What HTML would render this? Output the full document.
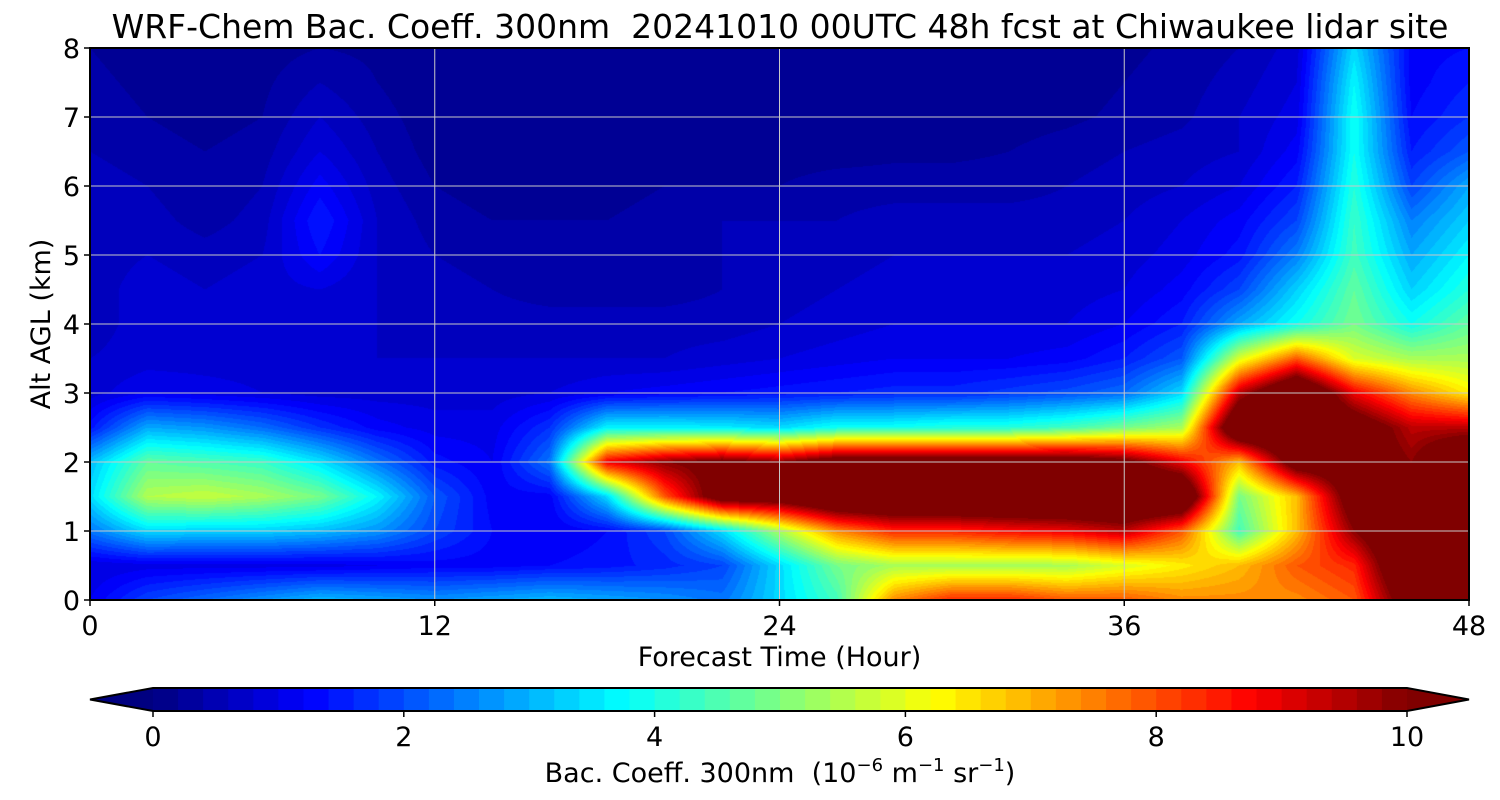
<!DOCTYPE html>
<html><head><meta charset="utf-8">
<style>
body{margin:0;background:#fff;font-family:"DejaVu Sans","Liberation Sans",sans-serif;}
#wrap{position:relative;width:1500px;height:800px;overflow:hidden;}
.t{position:absolute;color:#000;white-space:nowrap;}
</style></head>
<body>
<div id="wrap">
<div class="t" style="left:0;width:1560px;text-align:center;top:7px;font-size:33px;">WRF-Chem Bac. Coeff. 300nm&nbsp; 20241010 00UTC 48h fcst at Chiwaukee lidar site</div>
<canvas id="plot" width="1379" height="552" style="position:absolute;left:90px;top:48px;"></canvas>
<svg id="svg" width="1500" height="800" style="position:absolute;left:0;top:0;"></svg>
</div>
<script>
const times=[0,2,4,6,8,10,12,14,16,18,20,22,24,26,28,30,32,34,36,38,40,42,44,46,48];
const alts=[0,0.5,1,1.5,2,2.5,3,3.5,4,4.5,5,5.5,6,6.5,7,7.5,8];
const xTicks=[0,12,24,36,48];
const yTicks=[0,1,2,3,4,5,6,7,8];
const cbTicks=[0,2,4,6,8,10];
// rows = altitude (0 -> 8 km), cols = forecast hour
const row0=[1.2,2.0,2.4,2.8,3.2,3.0,2.8,3.0,3.2,3.0,2.8,2.5,3.5,4.5,7.5,8.5,8.5,8.0,8.0,7.5,7.5,7.5,8,11,12];
const row05=[1.0,1.1,1.1,1.1,1.1,1.2,1.3,1.3,1.4,1.5,1.7,2.0,3.5,5.0,5.5,5.5,5.5,5.5,6.0,6.5,7,8,8.5,12,12];
const row10=[2.5,3.5,3.4,3.4,3.2,2.8,2.0,1.4,1.2,1.4,2.0,3.5,5.5,7.5,8.5,8.5,8.8,9,9.5,8,4.5,7,10,12,12];
const row15=[3.5,5.6,5.8,5.5,5.0,3.8,2.2,1.3,1.3,3.5,8,11,11,12,12,12,12,12,12,12,5,7,11,12,12];
const row20=[3.2,4.8,4.6,4.4,3.6,2.5,1.5,1.2,2.5,9,10,10.5,10,11,11,11,11,11,10.5,9,7,11,11,10,12];
const row25=[1.5,3.0,2.8,2.4,1.8,1.3,1.1,1.1,1.8,3.8,3.8,3.7,3.5,4.0,4.0,4.2,4.2,4.5,5.0,5.5,12,12,11,9.5,9.5];
const row30=[0.9,1.2,1.1,1.0,0.9,0.9,0.9,0.9,1.0,1.2,1.3,1.4,1.5,1.6,1.7,1.7,1.9,2.1,2.4,3.5,9.5,12,9,7.5,6.5];
const row35=[0.8,0.9,0.9,0.9,0.8,0.8,0.8,0.8,0.8,0.8,0.8,0.9,1.0,1.1,1.2,1.2,1.2,1.3,1.6,2.2,6.0,8.0,6.0,5.5,5.5];
const row40=[0.7,0.9,0.9,0.9,0.9,0.8,0.7,0.7,0.7,0.7,0.7,0.7,0.8,0.9,1.0,1.0,1.0,1.0,1.2,1.6,3.0,4.0,5.0,4.0,4.8];
const row45=[0.7,0.9,0.8,0.9,1.0,0.8,0.7,0.6,0.5,0.5,0.5,0.6,0.7,0.8,0.9,0.9,0.9,0.9,1.0,1.3,2.0,3.4,4.8,3.4,4.2];
const row50=[0.7,0.8,0.7,0.8,1.4,0.8,0.6,0.5,0.4,0.4,0.5,0.6,0.7,0.7,0.8,0.8,0.8,0.8,0.9,1.1,1.5,2.6,4.5,3.0,3.8];
const row55=[0.7,0.7,0.5,0.7,1.6,0.8,0.5,0.4,0.4,0.4,0.5,0.6,0.6,0.6,0.7,0.7,0.7,0.7,0.8,1.0,1.3,2.0,4.4,2.6,3.4];
const row60=[0.7,0.6,0.4,0.6,1.3,0.7,0.4,0.3,0.3,0.3,0.4,0.4,0.4,0.5,0.5,0.5,0.5,0.6,0.7,0.8,1.0,1.6,4.2,2.0,3.0];
const row65=[0.6,0.5,0.4,0.5,1.0,0.6,0.3,0.25,0.25,0.25,0.25,0.3,0.3,0.3,0.35,0.35,0.4,0.5,0.6,0.7,0.8,1.3,4.0,1.6,2.2];
const row70=[0.5,0.4,0.3,0.4,0.8,0.5,0.25,0.2,0.2,0.2,0.2,0.2,0.25,0.25,0.25,0.25,0.3,0.35,0.45,0.55,0.8,1.1,4.0,1.4,1.8];
const row75=[0.45,0.35,0.3,0.35,0.6,0.4,0.2,0.2,0.2,0.2,0.2,0.2,0.2,0.2,0.2,0.2,0.2,0.3,0.4,0.5,0.7,1.0,3.8,1.3,1.6];
const row80=[0.4,0.3,0.3,0.3,0.4,0.35,0.2,0.2,0.2,0.2,0.2,0.2,0.2,0.2,0.2,0.2,0.2,0.3,0.35,0.45,0.6,0.9,3.5,1.3,1.4];
const grid=[row0,row05,row10,row15,row20,row25,row30,row35,row40,row45,row50,row55,row60,row65,row70,row75,row80];

const PX=90,PY=48,PW=1379,PH=552;
const xS=t=>PX+(t-0)/48*PW;
const yS=a=>PY+PH-(a/8)*PH;
const cl=v=>Math.max(0,Math.min(1,v));
function jet(x){x=cl(x);return [cl(1.5-Math.abs(4*x-3)),cl(1.5-Math.abs(4*x-2)),cl(1.5-Math.abs(4*x-1))].map(v=>Math.round(v*255));}
function lvl(v){v=Math.max(0,Math.min(10,v));return Math.floor(v/0.2)*0.2/10;}
function sample(t,a){
  let i=0;while(i<times.length-2&&t>times[i+1])i++;
  let j=0;while(j<alts.length-2&&a>alts[j+1])j++;
  const fx=cl((t-times[i])/(times[i+1]-times[i])),fy=cl((a-alts[j])/(alts[j+1]-alts[j]));
  const v00=grid[j][i],v10=grid[j][i+1],v01=grid[j+1][i],v11=grid[j+1][i+1];
  return (v00*(1-fx)+v10*fx)*(1-fy)+(v01*(1-fx)+v11*fx)*fy;
}
const ctx=document.getElementById('plot').getContext('2d');
const img=ctx.createImageData(PW,PH);
for(let py=0;py<PH;py++){const a=(PH-py-0.5)/PH*8;
  for(let px=0;px<PW;px++){const t=(px+0.5)/PW*48;
    const c=jet(lvl(sample(t,a)));const k=(py*PW+px)*4;
    img.data[k]=c[0];img.data[k+1]=c[1];img.data[k+2]=c[2];img.data[k+3]=255;}}
ctx.putImageData(img,0,0);

const svg=document.getElementById('svg');const NS='http://www.w3.org/2000/svg';
function mk(tag,attrs,name){const e=document.createElementNS(NS,tag);for(const k in attrs)e.setAttribute(k,attrs[k]);


svg.appendChild(e);return e;}
function txt(x,y,s,size,anchor,name){const e=mk('text',{x:x,y:y,'font-size':size,'text-anchor':anchor||'middle','font-family':'DejaVu Sans, Liberation Sans, sans-serif',fill:'#000'},name);e.textContent=s;return e;}
xTicks.forEach(t=>{
  if(t>0&&t<48)mk('line',{x1:xS(t),x2:xS(t),y1:PY,y2:PY+PH,stroke:'#c8c8c8','stroke-width':1},'x-gridline');
  mk('line',{x1:xS(t),x2:xS(t),y1:PY+PH,y2:PY+PH+6,stroke:'#000','stroke-width':1.5},'x-tick');
  txt(xS(t),PY+PH+35,String(t),27,'middle','x-tick-label');
});
yTicks.forEach(a=>{
  if(a>0&&a<8)mk('line',{x1:PX,x2:PX+PW,y1:yS(a),y2:yS(a),stroke:'#c8c8c8','stroke-width':1},'y-gridline');
  mk('line',{x1:PX-6,x2:PX,y1:yS(a),y2:yS(a),stroke:'#000','stroke-width':1.5},'y-tick');
  txt(PX-10,yS(a)+10,String(a),27,'end','y-tick-label');
});
mk('rect',{x:PX,y:PY,width:PW,height:PH,fill:'none',stroke:'#000','stroke-width':2},'plot-frame');
txt(xS(24),666,'Forecast Time (Hour)',27,'middle','x-axis-title');
const yt=txt(0,0,'Alt AGL (km)',27,'middle','y-axis-title');yt.setAttribute('transform','translate(50,324) rotate(-90)');
// colorbar
const CX0=153,CX1=1407,CY=688,CH=23;
const cx=v=>CX0+v/10*(CX1-CX0);
for(let n=0;n<50;n++){const v=n*0.2;const c=jet((v+0.1)/10);
  mk('rect',{x:cx(v),y:CY,width:(CX1-CX0)/50+(n<49?0.6:0),height:CH,fill:`rgb(${c[0]},${c[1]},${c[2]})`},'colorbar-segment');}
const c0=jet(0),c1=jet(1);
mk('polygon',{points:`${CX0},${CY} ${CX0},${CY+CH} 90,${CY+CH/2}`,fill:`rgb(${c0})`},'colorbar-under-triangle');
mk('polygon',{points:`${CX1},${CY} ${CX1},${CY+CH} 1469,${CY+CH/2}`,fill:`rgb(${c1})`},'colorbar-over-triangle');
mk('polygon',{points:`90,${CY+CH/2} ${CX0},${CY} ${CX1},${CY} 1469,${CY+CH/2} ${CX1},${CY+CH} ${CX0},${CY+CH}`,fill:'none',stroke:'#000','stroke-width':2},'colorbar-outline');
cbTicks.forEach(v=>{mk('line',{x1:cx(v),x2:cx(v),y1:CY+CH,y2:CY+CH+6,stroke:'#000','stroke-width':1.5},'colorbar-tick');
  txt(cx(v),CY+CH+35,String(v),27,'middle','colorbar-tick-label');});
const ct=txt(780,782,'',27,'middle','colorbar-label');
ct.innerHTML='Bac. Coeff. 300nm&#160; (10<tspan dy="-11" font-size="18">−6</tspan><tspan dy="11"> m</tspan><tspan dy="-11" font-size="18">−1</tspan><tspan dy="11"> sr</tspan><tspan dy="-11" font-size="18">−1</tspan><tspan dy="11">)</tspan>';
</script>
</body></html>
